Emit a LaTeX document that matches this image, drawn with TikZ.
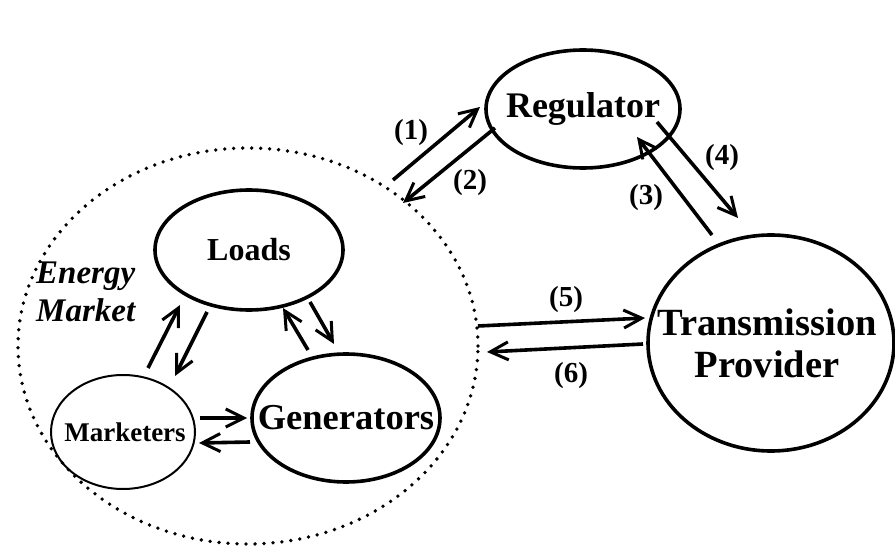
\documentclass[tikz,border=0pt]{standalone}
\usepackage{fontspec}
\setmainfont{Liberation Serif}
\usetikzlibrary{shapes.geometric,arrows.meta}
\begin{document}
\begin{tikzpicture}[x=1pt,y=-1pt,
  ent/.style={draw,ellipse,line width=3.6pt,inner sep=0pt},
  conn/.style={line width=3.6pt,-{Straight Barb[length=18pt,width=18pt,line width=3pt]}},
  lbl/.style={font=\fontsize{29}{30}\selectfont\bfseries}]
\useasboundingbox (0,0) rectangle (895,548);
% dotted market region
\node[draw,ellipse,line width=3.8pt,dash pattern=on 0pt off 9pt,line cap=round,minimum width=460pt,minimum height=396pt] (market) at (248,346) {};
\node[ent,minimum width=194pt,minimum height=118pt] (reg) at (583,109) {};
\node[font=\fontsize{36}{40}\selectfont\bfseries] (regt) at (reg) {Regulator};
\node[ent,minimum width=246pt,minimum height=216pt] (tp) at (771,343) {};
\node[align=center,font=\fontsize{38.5}{42}\selectfont\bfseries] (tpt) at ([xshift=-4pt]tp) {Transmission\\Provider};
\node[ent,minimum width=188pt,minimum height=120pt] (loads) at (249,250) {};
\node[font=\fontsize{32}{36}\selectfont\bfseries] (loadst) at (loads) {Loads};
\node[ent,minimum width=188pt,minimum height=128pt] (gen) at (346,418) {};
\node[font=\fontsize{36.5}{40}\selectfont\bfseries] (gent) at (gen) {Generators};
\node[ent,line width=2pt,minimum width=144pt,minimum height=114pt] (mkt) at (123,432) {};
\node[font=\fontsize{27}{30}\selectfont\bfseries] (mktt) at ([xshift=2pt]mkt) {Marketers};
\node[anchor=west,align=left,inner sep=0pt,font=\fontsize{33}{38}\selectfont\bfseries\itshape] (em) at (36,292) {Energy\\Market};
% connector end points
\coordinate (a1s) at (393,180); \coordinate (a1e) at (480,107);
\coordinate (a2s) at (495,128); \coordinate (a2e) at (403,203);
\coordinate (a3s) at (712,235); \coordinate (a3e) at (637,137);
\coordinate (a4s) at (657,122); \coordinate (a4e) at (738,218);
\coordinate (a5s) at (478,326); \coordinate (a5e) at (645,318);
\coordinate (a6s) at (643,344); \coordinate (a6e) at (487,352);
\coordinate (b1s) at (148,368); \coordinate (b1e) at (180,305);
\coordinate (b2s) at (207,312); \coordinate (b2e) at (175,376);
\coordinate (b3s) at (308,350); \coordinate (b3e) at (283,308);
\coordinate (b4s) at (310,302); \coordinate (b4e) at (334,344);
\coordinate (b5s) at (200,418); \coordinate (b5e) at (247,418);
\coordinate (b6s) at (250,442); \coordinate (b6e) at (199,443);
\draw[conn] (a1s) -- (a1e);
\draw[conn] (a2s) -- (a2e);
\draw[conn] (a3s) -- (a3e);
\draw[conn] (a4s) -- (a4e);
\draw[conn] (a5s) -- (a5e);
\draw[conn] (a6s) -- (a6e);
\draw[conn] (b1s) -- (b1e);
\draw[conn] (b2s) -- (b2e);
\draw[conn] (b3s) -- (b3e);
\draw[conn] (b4s) -- (b4e);
\draw[conn] (b5s) -- (b5e);
\draw[conn] (b6s) -- (b6e);
\node[lbl] (l1) at (411,133) {(1)};
\node[lbl] (l2) at (470,183) {(2)};
\node[lbl] (l3) at (646,198) {(3)};
\node[lbl] (l4) at (722,158) {(4)};
\node[lbl] (l5) at (566,300) {(5)};
\node[lbl] (l6) at (571,376) {(6)};
\end{tikzpicture}
\end{document}
